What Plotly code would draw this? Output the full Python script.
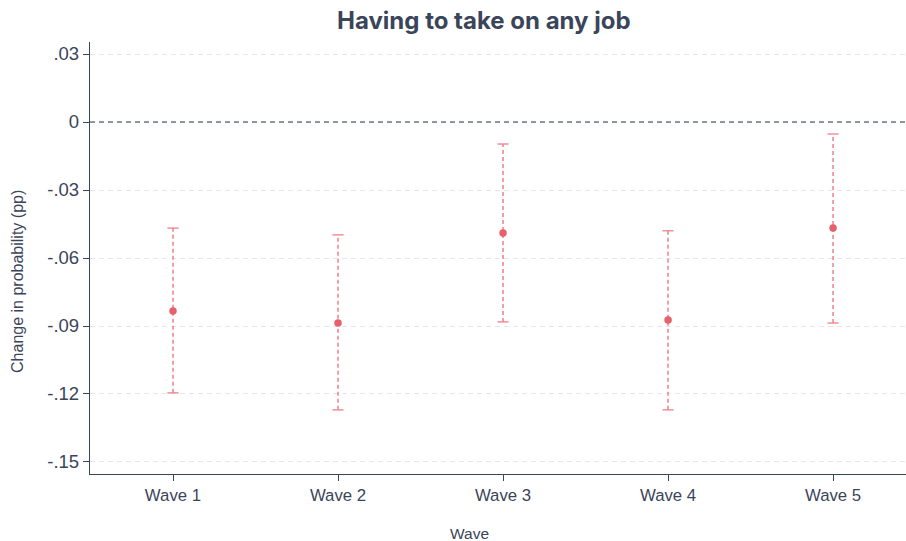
import plotly.graph_objects as go

waves = ["Wave 1", "Wave 2", "Wave 3", "Wave 4", "Wave 5"]
estimate = [-0.0834, -0.0887, -0.0490, -0.0873, -0.0468]
upper = [-0.0468, -0.0498, -0.0097, -0.0480, -0.0053]
lower = [-0.1195, -0.1270, -0.0882, -0.1270, -0.0887]
ytick_vals = [0.03, 0, -0.03, -0.06, -0.09, -0.12, -0.15]
ytick_text = [".03", "0", "-.03", "-.06", "-.09", "-.12", "-.15"]

xpos = list(range(1, len(waves) + 1))
bar_color = "#f07f8a"
dot_color = "#e8606b"
axis_color = "#3b4559"
font_family = "Liberation Sans, Arial, sans-serif"

fig = go.Figure()

# dashed vertical CI lines
for x, lo, hi in zip(xpos, lower, upper):
    fig.add_trace(go.Scatter(x=[x, x], y=[lo, hi], mode="lines",
                             line=dict(color=bar_color, width=1.5, dash="4px,3px"),
                             showlegend=False, hoverinfo="skip"))
# caps
fig.add_trace(go.Scatter(x=xpos + xpos, y=upper + lower, mode="markers",
                         marker=dict(symbol="line-ew", size=8,
                                     line=dict(color=bar_color, width=1.3)),
                         showlegend=False, hoverinfo="skip"))
# point estimates
fig.add_trace(go.Scatter(x=xpos, y=estimate, mode="markers",
                         marker=dict(color=dot_color, size=7.5),
                         showlegend=False))

fig.add_hline(y=0, line=dict(color="#2d3a55", width=1.2, dash="5px,4px"))

fig.update_layout(
    width=906, height=541,
    margin=dict(l=90, r=0, t=42, b=67),
    paper_bgcolor="white", plot_bgcolor="white",
    font=dict(family=font_family, color=axis_color),
    title=dict(text="<b>Having to take on any job</b>", x=0.534, xanchor="center",
               y=0.962, yanchor="middle",
               font=dict(family="Inter, Liberation Sans, sans-serif", size=24, color=axis_color)),
)
fig.add_annotation(text="Change in probability (pp)", textangle=-90,
                   xref="paper", yref="paper", x=-0.088, y=0.445,
                   xanchor="center", yanchor="middle", showarrow=False,
                   font=dict(size=16, color=axis_color))
fig.add_annotation(text="Wave", xref="paper", yref="paper", x=0.4645, y=-0.1366,
                   xanchor="center", yanchor="middle", showarrow=False,
                   font=dict(size=15.5, color=axis_color))
fig.update_xaxes(
    range=[0.497, 5.442], tickvals=xpos, ticktext=waves,
    showline=True, linecolor=axis_color, linewidth=1.3,
    ticks="outside", ticklen=6, tickcolor=axis_color,
    tickfont=dict(size=16.8, color=axis_color),
    showgrid=False, zeroline=False, automargin=False,
)
fig.update_yaxes(
    range=[-0.1553, 0.0353], tickvals=ytick_vals, ticktext=ytick_text,
    showline=True, linecolor=axis_color, linewidth=1.3,
    ticks="outside", ticklen=6, tickcolor=axis_color,
    tickfont=dict(size=18.5, color=axis_color),
    showgrid=True, gridcolor="#e6e6e6", griddash="5px,4px", gridwidth=1,
    zeroline=False, automargin=False,
)

fig.write_html("out.html", config={"displayModeBar": False},
               post_script="document.body.style.margin='0';")
